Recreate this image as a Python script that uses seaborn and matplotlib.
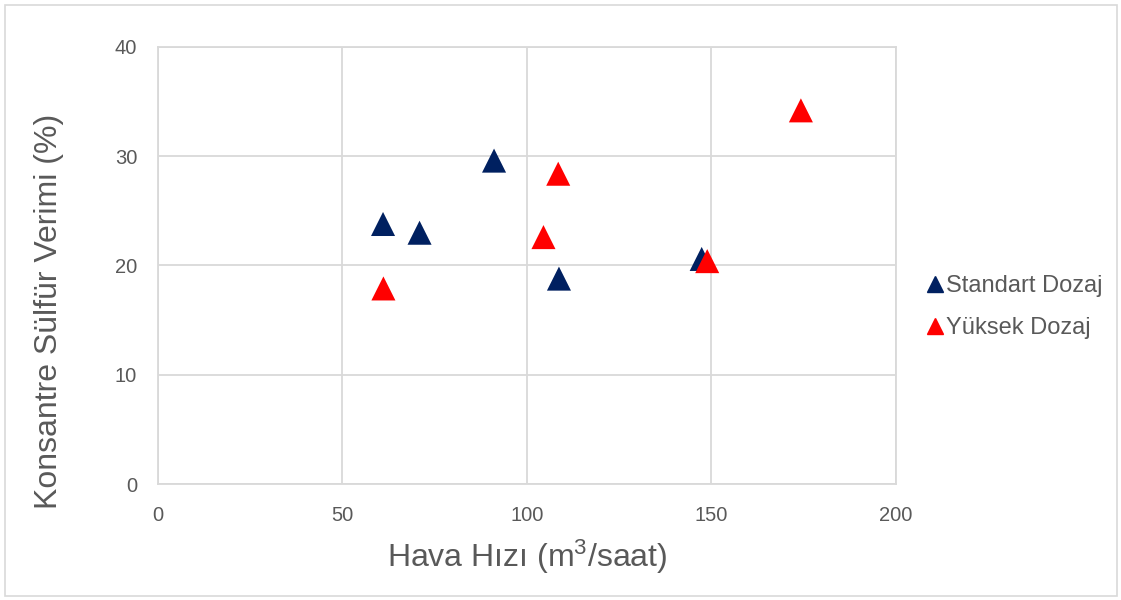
import pandas as pd
import matplotlib.pyplot as plt
from matplotlib.patches import Rectangle
from matplotlib.lines import Line2D
import seaborn as sns

# veriler
std_x = [61.0, 70.9, 91.1, 108.7, 147.4]
std_y = [23.8, 23.0, 29.6, 18.8, 20.6]
yuk_x = [61.1, 104.5, 108.5, 148.9, 174.3]
yuk_y = [17.9, 22.6, 28.4, 20.4, 34.2]
series = ["Standart Dozaj", "Yüksek Dozaj"]
colors = ["#002060", "#FF0000"]
x_ticks = [0, 50, 100, 150, 200]
y_ticks = [0, 10, 20, 30, 40]

df = pd.DataFrame({
    "x": std_x + yuk_x,
    "y": std_y + yuk_y,
    "seri": [series[0]] * len(std_x) + [series[1]] * len(yuk_x),
})

sns.set_style("white")
plt.rcParams["font.family"] = ["Liberation Sans", "DejaVu Sans"]
plt.rcParams["mathtext.default"] = "regular"

fig = plt.figure(figsize=(11.21, 6), dpi=100)
ax = fig.add_axes([0.141, 0.1933, 0.658, 0.7284])

sns.scatterplot(data=df, x="x", y="y", hue="seri", palette=colors,
                marker="^", s=300, linewidth=0, ax=ax, legend=False)

ax.set_xlim(0, 200)
ax.set_ylim(0, 40)
ax.set_xticks(x_ticks)
ax.set_yticks(y_ticks)
ax.grid(True, color="#d9d9d9", linewidth=1.3)
for sp in ax.spines.values():
    sp.set_color("#d9d9d9")
    sp.set_linewidth(1.3)
ax.tick_params(axis="both", length=0, labelsize=14.5, labelcolor="#595959")
ax.tick_params(axis="x", pad=16)
ax.tick_params(axis="y", pad=15)

ax.set_xlabel("Hava Hızı (m$^{3}$/saat)", fontsize=23, color="#595959", labelpad=9)
ax.set_ylabel("Konsantre Sülfür Verimi (%)", fontsize=23, color="#595959")
ax.yaxis.set_label_coords(-0.128, 0.395)

handles = [Line2D([], [], marker="^", linestyle="", color=c, markersize=12)
           for c in colors]
leg = ax.legend(handles, series, loc="center left", bbox_to_anchor=(1.015, 0.405),
                frameon=False, fontsize=17, handlelength=0.6, handletextpad=0.15,
                labelspacing=0.85, labelcolor="#595959")

fig.patches.append(Rectangle((4.5 / 1121, 4.5 / 600), 1 - 9 / 1121, 1 - 9 / 600,
                             transform=fig.transFigure, fill=False,
                             edgecolor="#d9d9d9", linewidth=1.2))

fig.savefig("out.png", dpi=100)
